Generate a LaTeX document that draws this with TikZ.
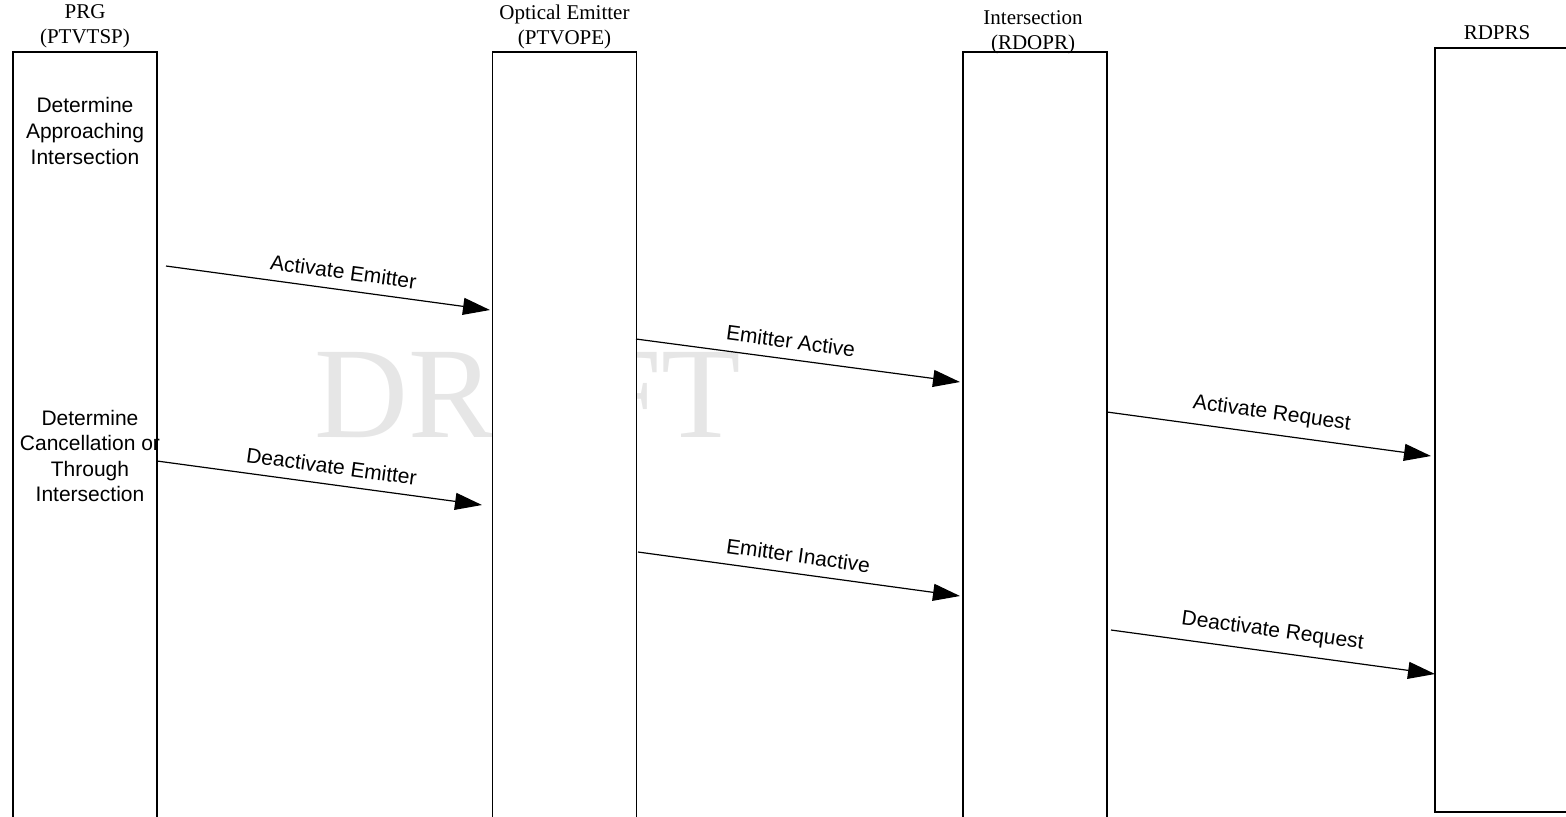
\documentclass[tikz,border=0pt]{standalone}
\usepackage{fontspec}
\setmainfont{Liberation Serif}
\newfontfamily\arialf{Liberation Sans}
\usetikzlibrary{arrows.meta}
\definecolor{wmgray}{RGB}{230,230,230}
\tikzset{
  lifebox/.style={draw, fill=white, line width=0.6pt, inner sep=0pt, minimum width=72pt},
  header/.style={font=\fontsize{10.5}{12.5}\selectfont, align=center, inner sep=0pt},
  boxtext/.style={font=\arialf\fontsize{10.5}{12.8}\selectfont, align=center, inner sep=0pt},
  msg/.style={line width=0.6pt, -{Triangle[length=13.5pt, width=8.5pt]}},
  msglabel/.style={font=\arialf\fontsize{10.5}{12.5}\selectfont, sloped, above, inner sep=5pt}
}
\begin{document}
\begin{tikzpicture}[x=0.5pt,y=-0.5pt]
\useasboundingbox (0,0) rectangle (1566,816);
% watermark
\node[text=wmgray, font=\fontsize{65}{65}\selectfont, inner sep=0pt] (wm) at (528,395) {DRAFT};
% lifeline boxes
\node[lifebox, minimum height=389pt] (b1) at (85,441) {};
\node[lifebox, minimum height=389pt] (b2) at (564.5,441) {};
\node[lifebox, minimum height=389pt] (b3) at (1035,441) {};
\node[lifebox, minimum height=382pt] (b4) at (1507,430) {};
% headers
\node[header] (h1) at (85,26) {PRG\\(PTVTSP)};
\node[header] (h2) at (564.5,27) {Optical Emitter\\(PTVOPE)};
\node[header] (h3) at (1033,32) {Intersection\\(RDOPR)};
\node[header] (h4) at (1497,33) {RDPRS};
% texts in PRG box
\node[boxtext] (t1) at (85,131) {Determine\\Approaching\\Intersection};
\node[boxtext] (t2) at (90,456) {Determine\\Cancellation or\\Through\\Intersection};
% message endpoints
\coordinate (a1s) at (166,266); \coordinate (a1e) at (490,310);
\coordinate (a2s) at (636,339); \coordinate (a2e) at (960,382);
\coordinate (a3s) at (1107,412); \coordinate (a3e) at (1431,456);
\coordinate (a4s) at (157,461); \coordinate (a4e) at (482,505);
\coordinate (a5s) at (638,552); \coordinate (a5e) at (960,596);
\coordinate (a6s) at (1111,630); \coordinate (a6e) at (1435,674);
% messages
\draw[msg] (a1s) -- node[msglabel, pos=0.54] (l1) {Activate Emitter} (a1e);
\draw[msg] (a2s) -- node[msglabel, pos=0.47] (l2) {Emitter Active} (a2e);
\draw[msg] (a3s) -- node[msglabel, pos=0.5] (l3) {Activate Request} (a3e);
\draw[msg] (a4s) -- node[msglabel, pos=0.53] (l4) {Deactivate Emitter} (a4e);
\draw[msg] (a5s) -- node[msglabel, pos=0.49] (l5) {Emitter Inactive} (a5e);
\draw[msg] (a6s) -- node[msglabel, pos=0.49] (l6) {Deactivate Request} (a6e);
\end{tikzpicture}
\end{document}
